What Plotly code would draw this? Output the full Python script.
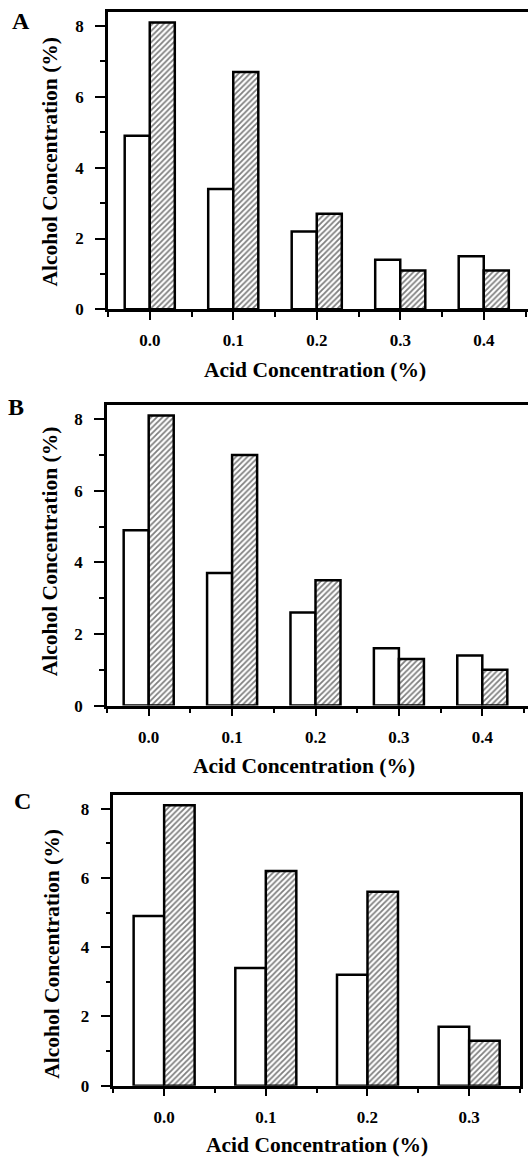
import plotly.graph_objects as go

# ---- data ----
acid_A = [0.0, 0.1, 0.2, 0.3, 0.4]
open_A = [4.9, 3.4, 2.2, 1.4, 1.5]
hatch_A = [8.1, 6.7, 2.7, 1.1, 1.1]

acid_B = [0.0, 0.1, 0.2, 0.3, 0.4]
open_B = [4.9, 3.7, 2.6, 1.6, 1.4]
hatch_B = [8.1, 7.0, 3.5, 1.3, 1.0]

acid_C = [0.0, 0.1, 0.2, 0.3]
open_C = [4.9, 3.4, 3.2, 1.7]
hatch_C = [8.1, 6.2, 5.6, 1.3]

x_ticks_AB = [0.0, 0.1, 0.2, 0.3, 0.4]
x_labels_AB = ["0.0", "0.1", "0.2", "0.3", "0.4"]
x_ticks_C = [0.0, 0.1, 0.2, 0.3]
x_labels_C = ["0.0", "0.1", "0.2", "0.3"]
y_ticks = [0, 2, 4, 6, 8]
y_labels = ["0", "2", "4", "6", "8"]

panel_letters = ["A", "B", "C"]
x_title = "Acid Concentration (%)"
y_title = "Alcohol Concentration (%)"

W, H = 528, 1169
FONT = "Liberation Serif"

panels = [
    dict(x=acid_A, o=open_A, h=hatch_A, ticks=x_ticks_AB, labels=x_labels_AB,
         xl=108, xr=528, y0=312, yt=12, xrange=[-0.05, 0.453], mirror_y=False,
         letter=(21, 21), xt=(315, 373), yt_pos=(50, 163)),
    dict(x=acid_B, o=open_B, h=hatch_B, ticks=x_ticks_AB, labels=x_labels_AB,
         xl=107, xr=528, y0=711.7, yt=408.3, xrange=[-0.05, 0.4548], mirror_y=False,
         letter=(16, 411), xt=(304, 773), yt_pos=(50, 556)),
    dict(x=acid_C, o=open_C, h=hatch_C, ticks=x_ticks_C, labels=x_labels_C,
         xl=113.3, xr=520, y0=1095, yt=801.7, xrange=[-0.05, 0.35], mirror_y=True,
         letter=(22, 808), xt=(317, 1155), yt_pos=(52, 962)),
]

fig = go.Figure()
annotations = []
for i, p in enumerate(panels, start=1):
    xa = "x" if i == 1 else f"x{i}"
    ya = "y" if i == 1 else f"y{i}"
    fig.add_trace(go.Bar(
        x=p["x"], y=p["o"], xaxis=xa, yaxis=ya, width=0.03, offset=-0.03,
        marker=dict(color="white", line=dict(color="black", width=2.5)),
        showlegend=False, hoverinfo="x+y"))
    fig.add_trace(go.Bar(
        x=p["x"], y=p["h"], xaxis=xa, yaxis=ya, width=0.03, offset=0.0,
        marker=dict(color="white", line=dict(color="black", width=2.5),
                    pattern=dict(shape="/", fgcolor="black", bgcolor="white",
                                 size=4, solidity=0.45)),
        showlegend=False, hoverinfo="x+y"))
    xkey = "xaxis" if i == 1 else f"xaxis{i}"
    ykey = "yaxis" if i == 1 else f"yaxis{i}"
    fig.update_layout(**{
        xkey: dict(domain=[p["xl"] / W, p["xr"] / W], range=p["xrange"],
                   anchor=ya, tickvals=p["ticks"],
                   ticktext=[f"<b>{t}</b>" for t in p["labels"]],
                   ticks="outside", ticklen=8, tickwidth=2, tickcolor="black",
                   minor=dict(dtick=0.05, tick0=-0.05, ticks="outside", ticklen=5,
                              tickwidth=2, tickcolor="black"),
                   showline=True, linewidth=2.5, linecolor="black", mirror=True,
                   showgrid=False, zeroline=False, ticklabelstandoff=6,
                   tickfont=dict(family=FONT, size=17, color="black"),
                   fixedrange=True),
        ykey: dict(domain=[1 - p["y0"] / H, 1 - p["yt"] / H], range=[0, 8.4],
                   anchor=xa, tickvals=y_ticks,
                   ticktext=[f"<b>{t}</b>" for t in y_labels],
                   ticks="outside", ticklen=10, tickwidth=2, tickcolor="black",
                   minor=dict(dtick=1, tick0=0, ticks="outside", ticklen=5,
                              tickwidth=2, tickcolor="black"),
                   showline=True, linewidth=2.5, linecolor="black",
                   mirror=p["mirror_y"], showgrid=False, zeroline=False,
                   ticklabelstandoff=8,
                   tickfont=dict(family=FONT, size=17, color="black"),
                   fixedrange=True),
    })
    lx, ly = p["letter"]
    annotations.append(dict(text=f"<b>{panel_letters[i-1]}</b>", x=lx / W, y=1 - ly / H,
                            xref="paper", yref="paper", showarrow=False,
                            xanchor="center", yanchor="middle",
                            font=dict(family=FONT, size=24, color="black")))
    tx, ty = p["xt"]
    annotations.append(dict(text=f"<b>{x_title}</b>", x=tx / W, y=1 - ty / H,
                            xref="paper", yref="paper", showarrow=False,
                            xanchor="center", yanchor="middle",
                            font=dict(family=FONT, size=21.5, color="black")))
    yx, yy = p["yt_pos"]
    annotations.append(dict(text=f"<b>{y_title}</b>", x=yx / W, y=1 - yy / H,
                            xref="paper", yref="paper", showarrow=False, textangle=-90,
                            xanchor="center", yanchor="middle",
                            font=dict(family=FONT, size=21.5, color="black")))

fig.update_layout(width=W, height=H, margin=dict(l=0, r=0, t=0, b=0),
                  paper_bgcolor="white", plot_bgcolor="white",
                  barmode="overlay", annotations=annotations,
                  font=dict(family=FONT, color="black"))

fig.write_html("out.html", config=dict(displayModeBar=False))
